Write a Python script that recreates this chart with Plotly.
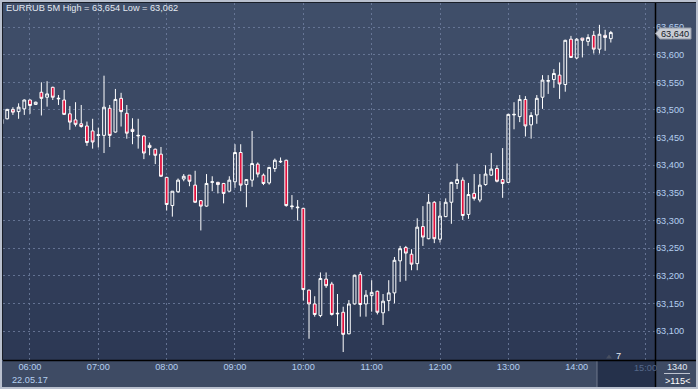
import plotly.graph_objects as go
import pandas as pd

# ---------------- data ----------------
times = pd.date_range("2017-05-22 05:35", periods=108, freq="5min")

opens = [63.475, 63.484, 63.501, 63.497, 63.502, 63.518, 63.510, 63.532, 63.523, 63.541,
         63.520, 63.518, 63.493, 63.482, 63.475, 63.471, 63.462, 63.454, 63.454, 63.503,
         63.460, 63.521, 63.494, 63.465, 63.453, 63.453, 63.436, 63.429, 63.420, 63.378,
         63.327, 63.352, 63.375, 63.382, 63.364, 63.336, 63.326, 63.369, 63.369, 63.367,
         63.353, 63.370, 63.423, 63.365, 63.373, 63.402, 63.382, 63.368, 63.394, 63.406,
         63.409, 63.325, 63.323, 63.322, 63.174, 63.149, 63.128, 63.194, 63.185, 63.131,
         63.134, 63.095, 63.149, 63.202, 63.149, 63.164, 63.172, 63.133, 63.155, 63.169,
         63.227, 63.251, 63.239, 63.222, 63.289, 63.267, 63.333, 63.266, 63.307, 63.333,
         63.367, 63.373, 63.311, 63.349, 63.337, 63.365, 63.382, 63.394, 63.374, 63.369,
         63.491, 63.488, 63.519, 63.473, 63.491, 63.523, 63.552, 63.555, 63.563, 63.546,
         63.628, 63.594, 63.630, 63.624, 63.635, 63.610, 63.635, 63.629]

highs = [63.484, 63.502, 63.505, 63.512, 63.519, 63.519, 63.515, 63.550, 63.552, 63.542,
         63.527, 63.536, 63.507, 63.514, 63.509, 63.479, 63.484, 63.468, 63.562, 63.509,
         63.538, 63.531, 63.509, 63.485, 63.484, 63.454, 63.441, 63.430, 63.433, 63.379,
         63.353, 63.376, 63.384, 63.382, 63.390, 63.337, 63.384, 63.380, 63.370, 63.368,
         63.380, 63.438, 63.438, 63.375, 63.462, 63.405, 63.385, 63.397, 63.412, 63.414,
         63.410, 63.346, 63.337, 63.323, 63.175, 63.163, 63.206, 63.206, 63.189, 63.167,
         63.144, 63.156, 63.202, 63.207, 63.174, 63.192, 63.173, 63.167, 63.192, 63.234,
         63.254, 63.254, 63.248, 63.304, 63.326, 63.348, 63.335, 63.335, 63.340, 63.370,
         63.403, 63.378, 63.368, 63.384, 63.384, 63.400, 63.422, 63.400, 63.431, 63.493,
         63.514, 63.527, 63.525, 63.496, 63.527, 63.563, 63.563, 63.574, 63.586, 63.627,
         63.634, 63.630, 63.630, 63.637, 63.643, 63.654, 63.645, 63.643]

lows = [63.474, 63.483, 63.491, 63.484, 63.491, 63.493, 63.509, 63.490, 63.506, 63.518,
        63.509, 63.491, 63.464, 63.470, 63.468, 63.435, 63.430, 63.432, 63.422, 63.433,
        63.459, 63.470, 63.448, 63.438, 63.430, 63.411, 63.418, 63.402, 63.379, 63.318,
        63.307, 63.350, 63.371, 63.362, 63.332, 63.282, 63.325, 63.353, 63.349, 63.331,
        63.352, 63.359, 63.353, 63.324, 63.361, 63.378, 63.364, 63.365, 63.388, 63.404,
        63.325, 63.320, 63.300, 63.155, 63.086, 63.126, 63.125, 63.178, 63.128, 63.109,
        63.062, 63.094, 63.148, 63.126, 63.126, 63.135, 63.130, 63.111, 63.136, 63.150,
        63.189, 63.191, 63.210, 63.210, 63.254, 63.266, 63.259, 63.260, 63.306, 63.294,
        63.357, 63.301, 63.303, 63.336, 63.333, 63.363, 63.381, 63.369, 63.341, 63.368,
        63.465, 63.478, 63.452, 63.448, 63.475, 63.502, 63.529, 63.540, 63.520, 63.533,
        63.594, 63.592, 63.595, 63.616, 63.602, 63.602, 63.607, 63.622]

closes = [63.483, 63.501, 63.496, 63.505, 63.518, 63.508, 63.514, 63.521, 63.529, 63.523,
          63.521, 63.492, 63.478, 63.474, 63.470, 63.441, 63.442, 63.455, 63.505, 63.454,
          63.519, 63.497, 63.458, 63.461, 63.454, 63.422, 63.432, 63.418, 63.380, 63.329,
          63.353, 63.373, 63.380, 63.371, 63.333, 63.326, 63.367, 63.370, 63.365, 63.349,
          63.373, 63.423, 63.364, 63.374, 63.403, 63.384, 63.367, 63.396, 63.409, 63.407,
          63.327, 63.326, 63.324, 63.175, 63.149, 63.130, 63.195, 63.182, 63.130, 63.132,
          63.094, 63.149, 63.201, 63.148, 63.165, 63.170, 63.134, 63.154, 63.169, 63.228,
          63.249, 63.241, 63.221, 63.288, 63.270, 63.333, 63.267, 63.308, 63.333, 63.369,
          63.374, 63.309, 63.347, 63.340, 63.364, 63.384, 63.393, 63.371, 63.367, 63.492,
          63.492, 63.519, 63.471, 63.490, 63.521, 63.554, 63.553, 63.566, 63.547, 63.626,
          63.595, 63.628, 63.626, 63.631, 63.610, 63.637, 63.631, 63.640]

y_tickvals = [63.10, 63.15, 63.20, 63.25, 63.30, 63.35, 63.40, 63.45, 63.50, 63.55, 63.60, 63.65]
y_ticktext = ["63,100", "63,150", "63,200", "63,250", "63,300", "63,350",
              "63,400", "63,450", "63,500", "63,550", "63,600", "63,650"]
x_tickvals = ["2017-05-22 %02d:00" % h for h in range(6, 16)]
x_ticktext = ["06:00", "07:00", "08:00", "09:00", "10:00", "11:00", "12:00", "13:00", "14:00", ""]

title_text = "EURRUB 5M High = 63,654 Low = 63,062"
last_price_text = "63,640"
date_text = "22.05.17"

# ---------------- geometry helpers (pixels -> paper) ----------------
W, H = 698, 389
ML, MR, MT, MB = 3, 43, 3, 29
PW, PH = W - ML - MR, H - MT - MB


def px(x):
    return (x - ML) / PW


def py(y):
    return (H - MB - y) / PH


FONT = "Liberation Sans, Arial, sans-serif"

fig = go.Figure()
fig.add_trace(go.Candlestick(
    x=times, open=opens, high=highs, low=lows, close=closes,
    increasing=dict(line=dict(color="#ffffff", width=1), fillcolor="rgba(0,0,0,0)"),
    decreasing=dict(line=dict(color="#ffffff", width=1), fillcolor="#e3103d"),
    whiskerwidth=0, hoverinfo="skip", showlegend=False,
))

shapes = []
# vertical gradient background (plot + right axis column)
top_c = (64, 79, 106)
bot_c = (44, 56, 84)
n = 36
for i in range(n):
    t = (i + 0.5) / n
    c = tuple(int(round(top_c[k] + (bot_c[k] - top_c[k]) * t)) for k in range(3))
    y0 = 360 * i / n
    y1 = 360 * (i + 1) / n + 0.6
    shapes.append(dict(type="rect", xref="paper", yref="paper", layer="below",
                       x0=px(0), x1=px(698), y0=py(min(y1, 360)), y1=py(y0),
                       fillcolor="rgb(%d,%d,%d)" % c, line=dict(width=0)))
# bottom axis band
shapes.append(dict(type="rect", xref="paper", yref="paper", layer="below",
                   x0=px(0), x1=px(698), y0=py(389), y1=py(360),
                   fillcolor="rgb(62,75,100)", line=dict(width=0)))
# dark future region in time axis
shapes.append(dict(type="rect", xref="paper", yref="paper", layer="below",
                   x0=px(597), x1=px(655), y0=py(387), y1=py(361),
                   fillcolor="rgb(37,49,75)", line=dict(width=0)))
shapes.append(dict(type="line", xref="paper", yref="paper", layer="above",
                   x0=px(597), x1=px(597), y0=py(387), y1=py(361),
                   line=dict(color="rgb(110,120,140)", width=1)))
# black axis lines
shapes.append(dict(type="line", xref="paper", yref="paper", layer="above",
                   x0=px(3), x1=px(698), y0=py(360.5), y1=py(360.5),
                   line=dict(color="#000000", width=1.5)))
shapes.append(dict(type="line", xref="paper", yref="paper", layer="above",
                   x0=px(655.5), x1=px(655.5), y0=py(387), y1=py(3),
                   line=dict(color="#000000", width=1.5)))
# outer frame
shapes.append(dict(type="rect", xref="paper", yref="paper", layer="above",
                   x0=px(1), x1=px(697), y0=py(388), y1=py(1),
                   line=dict(color="rgb(185,192,206)", width=2), fillcolor="rgba(0,0,0,0)"))
shapes.append(dict(type="line", xref="paper", yref="paper", layer="above",
                   x0=px(2.5), x1=px(2.5), y0=py(360), y1=py(2.5),
                   line=dict(color="rgb(25,30,40)", width=1)))
shapes.append(dict(type="line", xref="paper", yref="paper", layer="above",
                   x0=px(2.5), x1=px(696), y0=py(2.5), y1=py(2.5),
                   line=dict(color="rgb(25,30,40)", width=1)))
# last price marker
path = "M %f,%f L %f,%f L %f,%f L %f,%f L %f,%f Z" % (
    px(655.5), py(33.5), px(660), py(28), px(691), py(28), px(691), py(39), px(660), py(39))
shapes.append(dict(type="path", xref="paper", yref="paper", layer="above", path=path,
                   fillcolor="rgb(200,204,212)", line=dict(color="rgb(150,156,168)", width=1)))
# small triangle marker near bottom
tri = "M %f,%f L %f,%f L %f,%f Z" % (px(606), py(358.5), px(612), py(358.5), px(609), py(354.5))
shapes.append(dict(type="path", xref="paper", yref="paper", layer="above", path=tri,
                   fillcolor="rgb(70,78,96)", line=dict(width=0)))
# separator in the corner box
shapes.append(dict(type="line", xref="paper", yref="paper", layer="above",
                   x0=px(664), x1=px(690), y0=py(373.5), y1=py(373.5),
                   line=dict(color="rgb(190,196,208)", width=1)))

annotations = [
    dict(text=title_text, x=px(4), y=py(8.5), xref="paper", yref="paper",
         xanchor="left", yanchor="middle", showarrow=False,
         font=dict(family=FONT, size=9.2, color="#e4e9f1")),
    dict(text=last_price_text, x=px(675), y=py(33.5), xref="paper", yref="paper",
         xanchor="center", yanchor="middle", showarrow=False,
         font=dict(family=FONT, size=9.2, color="#141a28")),
    dict(text=date_text, x=px(30), y=py(379.5), xref="paper", yref="paper",
         xanchor="center", yanchor="middle", showarrow=False,
         font=dict(family=FONT, size=9.2, color="#b4cff0")),
    dict(text="15:00", x=px(645), y=py(368), xref="paper", yref="paper",
         xanchor="center", yanchor="middle", showarrow=False,
         font=dict(family=FONT, size=9.2, color="#55688a")),
    dict(text="7", x=px(618), y=py(355.5), xref="paper", yref="paper",
         xanchor="center", yanchor="middle", showarrow=False,
         font=dict(family=FONT, size=9.2, color="#e4e9f1")),
    dict(text="1340", x=px(677), y=py(367), xref="paper", yref="paper",
         xanchor="center", yanchor="middle", showarrow=False,
         font=dict(family=FONT, size=9.2, color="#e4e9f1")),
    dict(text="&gt;115&lt;", x=px(677), y=py(380.5), xref="paper", yref="paper",
         xanchor="center", yanchor="middle", showarrow=False,
         font=dict(family=FONT, size=9.2, color="#ffffff")),
]

grid_c = "rgba(112,128,160,0.8)"
fig.update_layout(
    width=W, height=H,
    margin=dict(l=ML, r=MR, t=MT, b=MB, pad=0),
    paper_bgcolor="rgb(62,75,100)",
    plot_bgcolor="rgba(0,0,0,0)",
    showlegend=False,
    hovermode=False,
    shapes=shapes,
    annotations=annotations,
    font=dict(family=FONT, size=9.2, color="#b4cff0"),
    xaxis=dict(
        type="date",
        range=["2017-05-22 05:36:18", "2017-05-22 15:08:47"],
        rangeslider=dict(visible=False),
        tickmode="array", tickvals=x_tickvals, ticktext=x_ticktext,
        showgrid=True, gridcolor=grid_c, griddash="2px,3px", gridwidth=1,
        zeroline=False, showline=False, ticks="",
        tickfont=dict(family=FONT, size=9.2, color="#b4cff0"),
        fixedrange=True,
    ),
    yaxis=dict(
        side="right",
        range=[63.0476, 63.6935],
        tickmode="array", tickvals=y_tickvals, ticktext=y_ticktext,
        showgrid=True, gridcolor=grid_c, griddash="2px,3px", gridwidth=1,
        zeroline=False, showline=False, ticks="",
        tickfont=dict(family=FONT, size=9.2, color="#b4cff0"),
        fixedrange=True,
    ),
)

fig.write_html(
    "out.html",
    config={"displayModeBar": False, "staticPlot": True},
    post_script="document.body.style.margin='0px';document.body.style.overflow='hidden';",
)
